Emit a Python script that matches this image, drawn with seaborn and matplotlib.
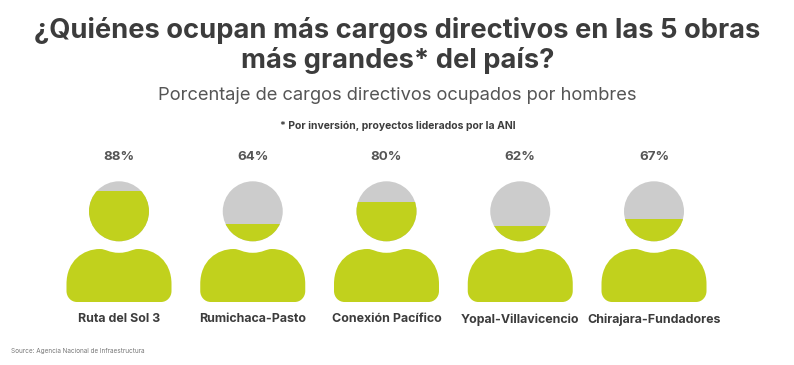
import matplotlib
matplotlib.use("Agg")
import matplotlib.pyplot as plt
from matplotlib.patches import Circle, PathPatch
from matplotlib.path import Path
from matplotlib.transforms import Affine2D
import pandas as pd
import seaborn as sns

projects = ["Ruta del Sol 3", "Rumichaca-Pasto", "Conexión Pacífico", "Yopal-Villavicencio", "Chirajara-Fundadores"]
male_share = [88, 64, 80, 62, 67]

title = "¿Quiénes ocupan más cargos directivos en las 5 obras\nmás grandes* del país?"
subtitle = "Porcentaje de cargos directivos ocupados por hombres"
note = "* Por inversión, proyectos liderados por la ANI"
source = "Source: Agencia Nacional de Infraestructura"

GREEN = "#C1D11D"
GREY = "#CCCCCC"
DARK = "#3C3C3C"
MID = "#555555"
W, H = 794, 365

sns.set_theme(style="white")
plt.rcParams["font.family"] = ["Inter", "Lato", "DejaVu Sans"]

fig = plt.figure(figsize=(W / 100, H / 100), dpi=100, facecolor="white")
ax = fig.add_axes([0, 0, 1, 1])
df = pd.DataFrame({"project": projects, "share": male_share})
sns.barplot(data=df, x="project", y="share", color=GREEN, saturation=1, width=0.6, linewidth=0, ax=ax)

# Category spacing 133.75 px, first at x=119; head spans 51 % to 95 %
ax.set_xlim(-119 / 133.75, (W - 119) / 133.75)
ax.set_ylim(-(H - 310.8) / 1.364, 310.8 / 1.364)
ax.axis("off")

px = Affine2D().scale(1, -1).translate(0, H)  # top-left pixel coordinates


def body_path(cx):
    t, b, e = 249.0, 302.0, 52.5
    v = [
        (cx - 42, b), (cx + 42, b),
        (cx + 48, b), (cx + e, b - 5), (cx + e, b - 11),
        (cx + e, b - 18),
        (cx + e, 261), (cx + 36, t), (cx + 19, t),
        (cx + 13, t), (cx + 10, 252.8), (cx, 252.8),
        (cx - 10, 252.8), (cx - 13, t), (cx - 19, t),
        (cx - 36, t), (cx - e, 261), (cx - e, b - 18),
        (cx - e, b - 11),
        (cx - e, b - 5), (cx - 48, b), (cx - 42, b),
        (cx - 42, b),
    ]
    c = [Path.MOVETO, Path.LINETO,
         Path.CURVE4, Path.CURVE4, Path.CURVE4,
         Path.LINETO,
         Path.CURVE4, Path.CURVE4, Path.CURVE4,
         Path.CURVE4, Path.CURVE4, Path.CURVE4,
         Path.CURVE4, Path.CURVE4, Path.CURVE4,
         Path.CURVE4, Path.CURVE4, Path.CURVE4,
         Path.LINETO,
         Path.CURVE4, Path.CURVE4, Path.CURVE4,
         Path.CLOSEPOLY]
    return Path(v, c)


bars = list(ax.containers[0])
for i, (bar, name, val) in enumerate(zip(bars, projects, male_share)):
    cx = ax.transData.transform((i, 0))[0]
    head = Circle((cx, 211.3), 30, transform=px, facecolor=GREY, edgecolor="none", zorder=0.5)
    ax.add_patch(head)
    bar.set_clip_path(head)
    ax.add_patch(PathPatch(body_path(cx), transform=px, facecolor=GREEN, edgecolor="none", zorder=2))
    ax.text(cx, 156.5, f"{val}%", transform=px, ha="center", va="center", fontsize=9.6, fontweight="bold", color=MID)
    ax.text(cx, 319.5, name, transform=px, ha="center", va="center", fontsize=8.95, fontweight="bold", color=DARK)

ax.text(W / 2 + 0.5, 45.5, title, transform=px, ha="center", va="center", fontsize=19.65, fontweight="bold",
        color=DARK, linespacing=1.15)
ax.text(W / 2, 95, subtitle, transform=px, ha="center", va="center", fontsize=13.2, color=MID)
ax.text(397.5, 126, note, transform=px, ha="center", va="center", fontsize=7.5, fontweight="bold", color=DARK)
ax.text(11, 351, source, transform=px, ha="left", va="center", fontsize=4.6, color="#777777")

fig.savefig("out.png", dpi=100, facecolor="white")
